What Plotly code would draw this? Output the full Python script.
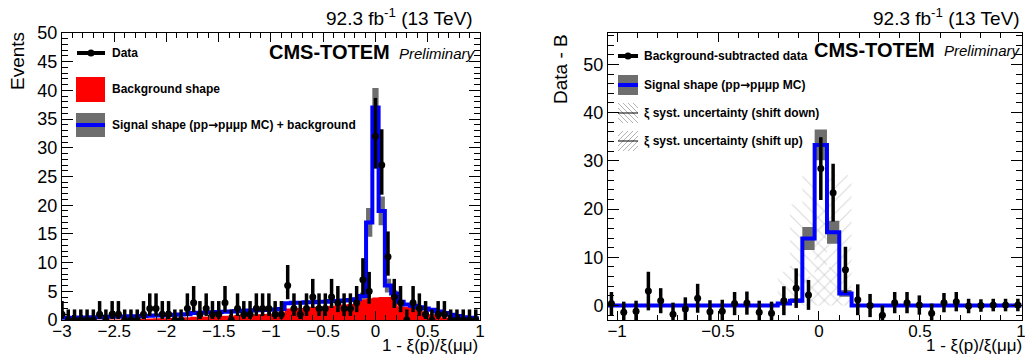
import numpy as np
import plotly.graph_objects as go

W, H = 1025, 360

# ---------------- LEFT PANEL DATA (bins of width 0.06, centres -3.00 ... 0.96) ----------------
l_bin_width = 0.06
l_first_center = -3.0
l_data = [1, 0, 0, 0, 0, 0, 1, 0, 1, 1, 0, 0, 0, 1, 2, 2, 1, 1, 0, 0, 2,
          3, 1, 2, 1, 1, 3, 0, 2, 1, 1, 2, 2, 2, 1, 1,
          6, 2, 1, 2, 4, 2, 2,
          4, 3, 2, 2, 3, 7, 5,
          32, 27, 11, 4, 3, 0, 3, 2, 1, 0, 1, 1, 0, 0, 0, 0, 0]
l_bkg = [0.0, 0.0, 0.0, 0.0, 0.0, 0.05, 0.05, 0.1, 0.1, 0.1, 0.15, 0.15, 0.2, 0.2,
         0.25, 0.3, 0.3, 0.35, 0.4, 0.45, 0.5,
         0.55, 0.6, 0.6, 0.65, 0.7, 0.75, 0.8, 0.85, 0.9, 0.95, 1.0, 1.05, 1.1, 1.15, 1.2,
         2.0, 2.1, 2.1, 2.2, 2.3, 2.3, 2.4, 2.5, 2.6, 2.7, 2.8, 2.9,
         3.6, 3.8, 3.9, 4.0, 4.0, 3.6,
         2.4, 2.3, 2.2, 1.6, 1.5, 1.0, 0.9, 0.5, 0.4, 0.3, 0.2, 0.1, 0.05]
l_sig_bkg = [0.4, 0.4, 0.4, 0.45, 0.45, 0.5, 0.5, 0.55, 0.55, 0.6, 0.6, 0.65, 0.65, 0.7,
             0.75, 0.8, 0.8, 0.85, 0.9, 0.95, 1.0,
             1.2, 1.25, 1.3, 1.35, 1.4, 1.45, 1.5, 1.55, 1.6, 1.65, 1.7, 1.75, 1.8, 1.85, 1.9,
             2.9, 3.0, 3.0, 3.1, 3.1, 3.2, 3.2, 3.3, 3.3, 3.4, 3.5, 3.6,
             4.2, 17.0, 37.0, 19.0, 6.0, 4.6,
             3.2, 2.7, 2.5, 2.2, 2.0, 1.8, 1.5, 1.2, 0.9, 0.7, 0.5, 0.4, 0.3]
l_sig_err = [0.15, 0.15, 0.15, 0.15, 0.15, 0.15, 0.15, 0.15, 0.15, 0.15, 0.15, 0.15, 0.15, 0.15,
             0.15, 0.15, 0.15, 0.15, 0.15, 0.15, 0.15,
             0.2, 0.2, 0.2, 0.2, 0.2, 0.2, 0.2, 0.2, 0.2, 0.2, 0.2, 0.2, 0.2, 0.2, 0.2,
             0.25, 0.25, 0.25, 0.25, 0.25, 0.25, 0.25, 0.25, 0.25, 0.25, 0.25, 0.3,
             0.6, 2.5, 3.4, 2.5, 1.2, 0.6,
             0.3, 0.25, 0.25, 0.2, 0.2, 0.2, 0.2, 0.15, 0.15, 0.15, 0.15, 0.15, 0.15]
# Garwood (Poisson) 68% intervals: N -> (down, up)
poisson_int = {0: (0.0, 1.84), 1: (0.83, 2.30), 2: (1.29, 2.64), 3: (1.63, 2.92),
               4: (1.91, 3.16), 5: (2.16, 3.38), 6: (2.38, 3.58), 7: (2.58, 3.77),
               11: (3.28, 4.43), 27: (5.17, 6.23), 32: (5.63, 6.69)}

# ---------------- RIGHT PANEL DATA (34 bins) ----------------
r_bin_width = 0.061
r_first_center = -1.028
r_data = [0.4, -1.4, -1.2, 3.0, 1.0, -1.8, -0.7, 1.5, -1.3, -1.2, 0.4, 0.5, -1.4, -1.6,
          1.0, 3.6, 2.2, 28.4, 23.4, 7.4, 1.2, 0.0, -2.0, 0.6, 0.6, 0.1, -1.6, 0.6, 0.8,
          -0.1, 0.0, 0.1, 0.1, 0.1]
r_data_err = [2.4, 2.2, 2.2, 4.0, 2.6, 2.4, 2.4, 3.0, 2.4, 2.4, 2.4, 2.4, 2.4, 2.4,
              3.0, 4.1, 3.1, 6.5, 6.0, 4.8, 3.2, 2.4, 2.0, 2.2, 2.2, 2.0, 2.0, 2.0, 2.0,
              1.5, 1.3, 1.3, 1.3, 1.3]
r_sig = [0, 0, 0, 0, 0, 0, 0, 0, 0, 0, 0, 0, 0, 0,
         0.4, 1.0, 13.9, 33.3, 15.2, 2.5, 0, 0, 0, 0, 0, 0, 0, 0, 0,
         0, 0, 0, 0, 0]
r_sig_err = [0.1, 0.1, 0.1, 0.1, 0.1, 0.1, 0.1, 0.1, 0.1, 0.1, 0.1, 0.1, 0.1, 0.1,
             0.3, 0.5, 2.4, 3.2, 2.4, 0.7, 0.1, 0.1, 0.1, 0.1, 0.1, 0.1, 0.1, 0.1, 0.1,
             0.1, 0.1, 0.1, 0.1, 0.1]
r_shift_down = [0, 0, 0, 0, 0, 0, 0, 0, 0, 0, 0, 0, 0, 0,
                7, 21, 27, 22, 8, 1, 0, 0, 0, 0, 0, 0, 0, 0, 0,
                0, 0, 0, 0, 0]
r_shift_up = [0, 0, 0, 0, 0, 0, 0, 0, 0, 0, 0, 0, 0, 0,
              0, 1, 6, 20, 27, 27, 0, 0, 0, 0, 0, 0, 0, 0, 0,
              0, 0, 0, 0, 0]

# ---------------- helpers ----------------
def px(x):
    return x / W

def py(y):
    return 1 - y / H

def centers_of(first, width, n):
    return first + width * np.arange(n)

def step_xy(centers, width, vals):
    vals = np.asarray(vals, float)
    edges = np.append(centers - width / 2, centers[-1] + width / 2)
    return edges, np.append(vals, vals[-1])

BLUE = "#0000ff"
GRAY = "#6e6e6e"
RED = "#ff0000"
FONT = "Liberation Sans"
ARROW = '<span style="font-family:DejaVu Sans">→</span>'

fig = go.Figure()

# ---------------- left traces ----------------
lc = centers_of(l_first_center, l_bin_width, len(l_data))
ex, ey = step_xy(lc, l_bin_width, l_bkg)
fig.add_trace(go.Scatter(x=ex, y=ey, mode="lines", line=dict(shape="hv", width=0, color=RED),
                         fill="tozeroy", fillcolor=RED, xaxis="x", yaxis="y", showlegend=False,
                         hoverinfo="skip"))
sb = np.asarray(l_sig_bkg)
se = np.asarray(l_sig_err)
ex, eyl = step_xy(lc, l_bin_width, sb - se)
ex, eyu = step_xy(lc, l_bin_width, sb + se)
fig.add_trace(go.Scatter(x=ex, y=eyl, mode="lines", line=dict(shape="hv", width=0, color=GRAY),
                         xaxis="x", yaxis="y", showlegend=False, hoverinfo="skip"))
fig.add_trace(go.Scatter(x=ex, y=eyu, mode="lines", line=dict(shape="hv", width=0, color=GRAY),
                         fill="tonexty", fillcolor=GRAY, xaxis="x", yaxis="y", showlegend=False,
                         hoverinfo="skip"))
ex, ey = step_xy(lc, l_bin_width, l_sig_bkg)
fig.add_trace(go.Scatter(x=ex, y=ey, mode="lines", line=dict(shape="hv", width=4, color=BLUE),
                         xaxis="x", yaxis="y", showlegend=False))
l_dn = [poisson_int[n][0] for n in l_data]
l_up = [poisson_int[n][1] for n in l_data]
fig.add_trace(go.Scatter(x=lc, y=l_data, mode="markers",
                         marker=dict(color="black", size=7),
                         error_y=dict(type="data", symmetric=False, array=l_up, arrayminus=l_dn,
                                      color="black", thickness=3.5, width=0),
                         xaxis="x", yaxis="y", showlegend=False))

# ---------------- right traces ----------------
rc = centers_of(r_first_center, r_bin_width, len(r_data))
ex, ey = step_xy(rc, r_bin_width, r_shift_down)
fig.add_trace(go.Scatter(x=ex, y=ey, mode="lines", line=dict(shape="hv", width=0, color="rgba(0,0,0,0)"),
                         fill="tozeroy", fillcolor="rgba(0,0,0,0)",
                         fillpattern=dict(shape="\\", fgcolor="#b4b4b4", bgcolor="rgba(0,0,0,0)",
                                          size=9, solidity=0.12),
                         xaxis="x2", yaxis="y2", showlegend=False, hoverinfo="skip"))
ex, ey = step_xy(rc, r_bin_width, r_shift_up)
fig.add_trace(go.Scatter(x=ex, y=ey, mode="lines", line=dict(shape="hv", width=0, color="rgba(0,0,0,0)"),
                         fill="tozeroy", fillcolor="rgba(0,0,0,0)",
                         fillpattern=dict(shape="/", fgcolor="#b4b4b4", bgcolor="rgba(0,0,0,0)",
                                          size=9, solidity=0.12),
                         xaxis="x2", yaxis="y2", showlegend=False, hoverinfo="skip"))
rs = np.asarray(r_sig, float)
rse = np.asarray(r_sig_err, float)
ex, eyl = step_xy(rc, r_bin_width, rs - rse)
ex, eyu = step_xy(rc, r_bin_width, rs + rse)
fig.add_trace(go.Scatter(x=ex, y=eyl, mode="lines", line=dict(shape="hv", width=0, color=GRAY),
                         xaxis="x2", yaxis="y2", showlegend=False, hoverinfo="skip"))
fig.add_trace(go.Scatter(x=ex, y=eyu, mode="lines", line=dict(shape="hv", width=0, color=GRAY),
                         fill="tonexty", fillcolor=GRAY, xaxis="x2", yaxis="y2", showlegend=False,
                         hoverinfo="skip"))
ex, ey = step_xy(rc, r_bin_width, r_sig)
fig.add_trace(go.Scatter(x=ex, y=ey, mode="lines", line=dict(shape="hv", width=4, color=BLUE),
                         xaxis="x2", yaxis="y2", showlegend=False))
fig.add_trace(go.Scatter(x=rc, y=r_data, mode="markers",
                         marker=dict(color="black", size=7),
                         error_y=dict(type="data", array=r_data_err, color="black",
                                      thickness=3.5, width=0),
                         xaxis="x2", yaxis="y2", showlegend=False))

# ---------------- axes ----------------
def xax(domain, rng, dtick, minor):
    return dict(domain=domain, range=rng, dtick=dtick, tick0=0, ticks="inside", ticklen=9,
                tickwidth=1, tickcolor="black", showline=True, linecolor="black", linewidth=1,
                mirror="ticks", showgrid=False, zeroline=False, automargin=False,
                ticklabelstandoff=-4, ticklabeloverflow="allow",
                minor=dict(ticks="inside", ticklen=5, dtick=minor, tick0=0, tickcolor="black",
                           showgrid=False),
                tickfont=dict(family=FONT, size=17, color="black"))

def yax(domain, rng, dtick, minor, anchor):
    d = xax(domain, rng, dtick, minor)
    d["ticklen"] = 11
    d["minor"]["ticklen"] = 6
    d["anchor"] = anchor
    d["ticklabelstandoff"] = 0
    d["tickfont"] = dict(family=FONT, size=18, color="black")
    return d

x_dom_l = [px(62), px(480)]
x_dom_r = [px(608), px(1021.5)]
y_dom = [py(320), py(33)]

fig.update_layout(
    width=W, height=H, autosize=False,
    margin=dict(l=0, r=0, t=0, b=0, pad=0, autoexpand=False),
    paper_bgcolor="white", plot_bgcolor="white",
    xaxis=dict(**xax(x_dom_l, [-3, 1.0005], 0.5, 0.1), anchor="y"),
    yaxis=yax(y_dom, [0, 50], 5, 1, "x"),
    xaxis2=dict(**xax(x_dom_r, [-1.045, 1.003], 0.5, 0.1), anchor="y2"),
    yaxis2=yax(y_dom, [-3, 56.5], 10, 2, "x2"),
)

# ---------------- texts ----------------
ann = []
def text(x, y, s, size, xanchor="left", yanchor="middle", bold=False, italic=False, angle=0):
    f = dict(family=FONT, size=size, color="black")
    if bold:
        f["weight"] = "bold"
    if italic:
        f["style"] = "italic"
    ann.append(dict(x=px(x), y=py(y), xref="paper", yref="paper", text=s, showarrow=False,
                    xanchor=xanchor, yanchor=yanchor, font=f, textangle=angle,
                    borderpad=0))

lumi = "92.3 fb<sup>-1</sup> (13 TeV)"
text(474, 17, lumi, 19, xanchor="right")
text(1021, 17, lumi, 19, xanchor="right")
text(391, 52, "CMS-TOTEM", 20, xanchor="right", bold=True)
text(398, 53, "Preliminary", 15, italic=True)
text(936, 50, "CMS-TOTEM", 20, xanchor="right", bold=True)
text(943, 51, "Preliminary", 15, italic=True)
text(17, 31, "Events", 19, xanchor="center", yanchor="top", angle=-90)
text(560, 33, "Data - B", 19, xanchor="center", yanchor="top", angle=-90)
xt = "1 - ξ(p)/ξ(μμ)"
text(479, 345, xt, 17, xanchor="right")
text(1023, 345, xt, 17, xanchor="right")

# left legend
text(111, 53, "Data", 12, bold=True)
text(111, 89, "Background shape", 12, bold=True)
text(111, 125, "Signal shape (pp" + ARROW + "pμμp MC) + background", 12, bold=True)
# right legend
text(643, 56, "Background-subtracted data", 12, bold=True)
text(643, 85, "Signal shape (pp" + ARROW + "pμμp MC)", 12, bold=True)
text(643, 113, "ξ syst. uncertainty (shift down)", 12, bold=True)
text(643, 141, "ξ syst. uncertainty (shift up)", 12, bold=True)

shapes = []
def rect(x0, y0, x1, y1, color):
    shapes.append(dict(type="rect", xref="paper", yref="paper", x0=px(x0), x1=px(x1),
                       y0=py(y1), y1=py(y0), fillcolor=color, line=dict(width=0)))

def hline(x0, x1, y, color, width):
    shapes.append(dict(type="line", xref="paper", yref="paper", x0=px(x0), x1=px(x1),
                       y0=py(y), y1=py(y), line=dict(color=color, width=width)))

def circle(cx, cy, r):
    shapes.append(dict(type="circle", xref="paper", yref="paper", x0=px(cx - r), x1=px(cx + r),
                       y0=py(cy + r), y1=py(cy - r), fillcolor="black", line=dict(width=0)))

def hatch_box(x0, y0, x1, y1, direction, spacing=5):
    w, h = x1 - x0, y1 - y0
    segs = []
    if direction == "\\":
        t = -h
        while t < w:
            sx, sy = max(t, 0), max(-t, 0)
            exx, eyy = min(w, h + t), min(h, w - t)
            segs.append((sx, sy, exx, eyy))
            t += spacing
    else:
        c = 0
        while c < w + h:
            sx, sy = max(0, c - h), min(h, c)
            exx, eyy = min(w, c), max(0, c - w)
            segs.append((sx, sy, exx, eyy))
            c += spacing
    path = ""
    for a, b, c2, d in segs:
        path += f"M {px(x0 + a):.5f},{py(y0 + b):.5f} L {px(x0 + c2):.5f},{py(y0 + d):.5f} "
    shapes.append(dict(type="path", xref="paper", yref="paper", path=path,
                       line=dict(color="#b4b4b4", width=1)))

# left legend symbols
hline(77, 105, 53, "black", 4)
circle(91, 53, 3.5)
rect(76, 77, 105, 102, RED)
rect(76, 113, 105, 137, GRAY)
hline(76, 105, 125, BLUE, 4)
# right legend symbols
hline(618, 638, 56, "black", 4)
circle(628, 56, 3.5)
rect(618, 75, 638, 95, GRAY)
hline(618, 638, 85, BLUE, 4)
hatch_box(618, 103, 638, 123, "\\")
hline(618, 638, 113, "black", 1)
hatch_box(618, 131, 638, 151, "/")
hline(618, 638, 141, "black", 1)

fig.update_layout(annotations=ann, shapes=shapes)
fig.write_html("out.html", config={"displayModeBar": False, "staticPlot": True},
               post_script="document.body.style.margin='0px';document.body.style.padding='0px';"
                           "document.body.style.overflow='hidden';")
